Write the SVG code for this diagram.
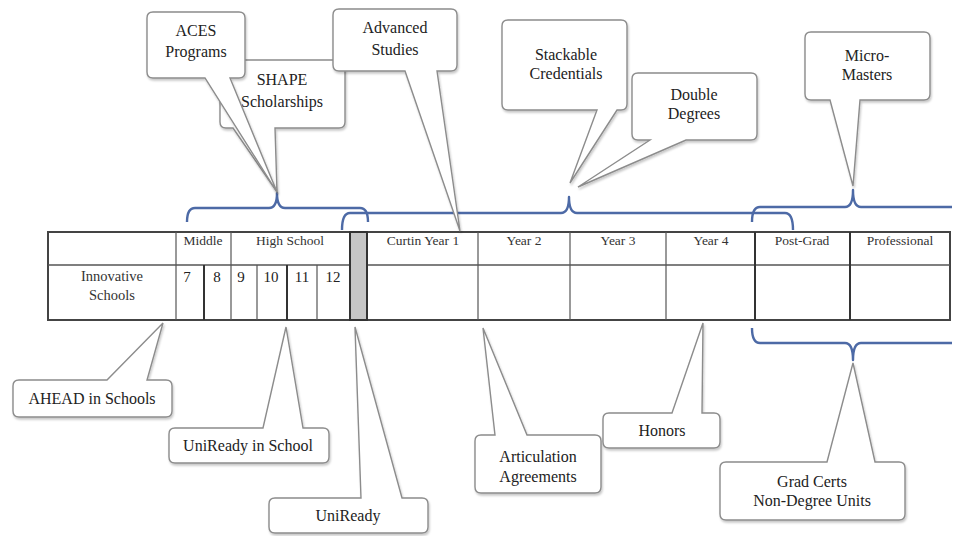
<svg xmlns="http://www.w3.org/2000/svg" width="954" height="536" viewBox="0 0 954 536" font-family="'Liberation Serif', 'Times New Roman', 'DejaVu Serif', serif">
<style>
.co{fill:#fff;stroke:#8c8c8c;stroke-width:1.4;filter:url(#sh)}
.ct{font-family:'Liberation Serif','Times New Roman','DejaVu Serif',serif;font-size:16px;fill:#222;text-anchor:middle}
.ht{font-family:'Liberation Serif','Times New Roman','DejaVu Serif',serif;font-size:13.5px;fill:#333;text-anchor:middle}
.nt{font-family:'Liberation Serif','Times New Roman','DejaVu Serif',serif;font-size:15px;fill:#222;text-anchor:middle}
.br{fill:none;stroke:#4d6aa6;stroke-width:2.4;stroke-linejoin:round}
.gl{stroke:#555;stroke-width:1.2}
.gk{stroke:#333;stroke-width:2}
</style>
<defs>
<filter id="sh" x="-10%" y="-10%" width="125%" height="130%">
<feDropShadow dx="1" dy="2" stdDeviation="1" flood-color="#000" flood-opacity="0.22"/>
</filter>
</defs>
<rect width="954" height="536" fill="#fff"/>

<g id="table">
<rect x="48" y="232" width="902" height="88" fill="#fff" stroke="#444" stroke-width="2"/>
<line class="gl" x1="48" y1="265" x2="950" y2="265" style="stroke-width:1.6"/>
<line class="gl" x1="176" y1="232" x2="176" y2="320"/>
<line class="gk" x1="204" y1="265" x2="204" y2="320"/>
<line class="gl" x1="231" y1="232" x2="231" y2="320"/>
<line class="gl" x1="257" y1="265" x2="257" y2="320"/>
<line class="gk" x1="287" y1="265" x2="287" y2="320"/>
<line class="gl" x1="317" y1="265" x2="317" y2="320"/>
<rect x="350" y="232" width="17" height="88" fill="#c6c6c6" stroke="#333" stroke-width="2"/>
<line class="gl" x1="478" y1="232" x2="478" y2="320"/>
<line class="gl" x1="570" y1="232" x2="570" y2="320"/>
<line class="gl" x1="666" y1="232" x2="666" y2="320"/>
<line class="gk" x1="755" y1="232" x2="755" y2="320"/>
<line class="gk" x1="850" y1="232" x2="850" y2="320"/>
<text class="ht" x="203" y="245">Middle</text>
<text class="ht" x="290" y="245">High School</text>
<text class="ht" x="423" y="245">Curtin Year 1</text>
<text class="ht" x="524" y="245">Year 2</text>
<text class="ht" x="618" y="245">Year 3</text>
<text class="ht" x="711" y="245">Year 4</text>
<text class="ht" x="802" y="245">Post-Grad</text>
<text class="ht" x="900" y="245">Professional</text>
<text class="ht" x="112" y="281" style="font-size:14.5px">Innovative</text>
<text class="ht" x="112" y="300" style="font-size:14.5px">Schools</text>
<text class="nt" x="187" y="282">7</text>
<text class="nt" x="217" y="282">8</text>
<text class="nt" x="241" y="282">9</text>
<text class="nt" x="271" y="282">10</text>
<text class="nt" x="302" y="282">11</text>
<text class="nt" x="333" y="282">12</text>
</g>

<g id="connectors">
<path class="br" d="M187,222 Q187,208 195,208 H269 Q277,208 277,193 Q277,208 285,208 H360 Q368,208 368,222"/>
<path class="br" d="M342,230 Q342,213 350,213 H561 Q569,213 569,197 Q569,213 577,213 H785 Q793,213 793,230"/>
<path class="br" d="M752,222 Q752,207 760,207 H845 Q853,207 853,190 Q853,207 861,207 H952"/>
<path class="br" d="M752,328 Q752,343 760,343 H845 Q853,343 853,360 Q853,343 861,343 H952"/>
</g>

<g id="shape">
<path class="co" d="M226,60 H339 Q345,60 345,66 V122 Q345,128 339,128 H275 L277,192 L233,128 H226 Q220,128 220,122 V66 Q220,60 226,60 Z"/>
<text class="ct" x="282" y="85">SHAPE</text>
<text class="ct" x="282" y="107">Scholarships</text>
</g>
<g id="aces">
<path class="co" d="M153,12 H239 Q245,12 245,18 V72 Q245,78 239,78 H230 L277,192 L205,78 H153 Q147,78 147,72 V18 Q147,12 153,12 Z"/>
<text class="ct" x="196" y="36">ACES</text>
<text class="ct" x="196" y="57">Programs</text>
</g>
<g id="advanced">
<path class="co" d="M339,9 H451 Q457,9 457,15 V65 Q457,71 451,71 H437 L460,231 L405,71 H339 Q333,71 333,65 V15 Q333,9 339,9 Z"/>
<text class="ct" x="395" y="33">Advanced</text>
<text class="ct" x="395" y="55">Studies</text>
</g>
<g id="stackable">
<path class="co" d="M508,20 H621 Q627,20 627,26 V104 Q627,110 621,110 H617 L570,183 L597,110 H508 Q502,110 502,104 V26 Q502,20 508,20 Z"/>
<text class="ct" x="566" y="60">Stackable</text>
<text class="ct" x="566" y="79">Credentials</text>
</g>
<g id="double">
<path class="co" d="M638,73 H751 Q757,73 757,79 V134 Q757,140 751,140 H686 L578,187 L650,140 H638 Q632,140 632,134 V79 Q632,73 638,73 Z"/>
<text class="ct" x="694" y="100">Double</text>
<text class="ct" x="694" y="119">Degrees</text>
</g>
<g id="micromasters">
<path class="co" d="M811,32 H924 Q930,32 930,38 V94 Q930,100 924,100 H860 L853,186 L830,100 H811 Q805,100 805,94 V38 Q805,32 811,32 Z"/>
<text class="ct" x="867" y="61">Micro-</text>
<text class="ct" x="867" y="80">Masters</text>
</g>
<g id="ahead">
<path class="co" d="M19,380 H107 L163,323 L147,380 H166 Q172,380 172,386 V411 Q172,417 166,417 H19 Q13,417 13,411 V386 Q13,380 19,380 Z"/>
<text class="ct" x="92" y="404">AHEAD in Schools</text>
</g>
<g id="uniready-school">
<path class="co" d="M175,428 H263 L286,327 L303,428 H323 Q329,428 329,434 V457 Q329,463 323,463 H175 Q169,463 169,457 V434 Q169,428 175,428 Z"/>
<text class="ct" x="248" y="451">UniReady in School</text>
</g>
<g id="uniready">
<path class="co" d="M275,498 H361 L355,327 L402,498 H422 Q428,498 428,504 V527 Q428,533 422,533 H275 Q269,533 269,527 V504 Q269,498 275,498 Z"/>
<text class="ct" x="348" y="521">UniReady</text>
</g>
<g id="articulation">
<path class="co" d="M481,435 H495 L483,328 L527,435 H595 Q601,435 601,441 V487 Q601,493 595,493 H481 Q475,493 475,487 V441 Q475,435 481,435 Z"/>
<text class="ct" x="538" y="462">Articulation</text>
<text class="ct" x="538" y="482">Agreements</text>
</g>
<g id="honors">
<path class="co" d="M609,413 H672 L703,323 L702,413 H714 Q720,413 720,419 V442 Q720,448 714,448 H609 Q603,448 603,442 V419 Q603,413 609,413 Z"/>
<text class="ct" x="662" y="436">Honors</text>
</g>
<g id="gradcerts">
<path class="co" d="M726,462 H827 L853,363 L875,462 H899 Q905,462 905,468 V514 Q905,520 899,520 H726 Q720,520 720,514 V468 Q720,462 726,462 Z"/>
<text class="ct" x="812" y="487">Grad Certs</text>
<text class="ct" x="812" y="506">Non-Degree Units</text>
</g>
</svg>
